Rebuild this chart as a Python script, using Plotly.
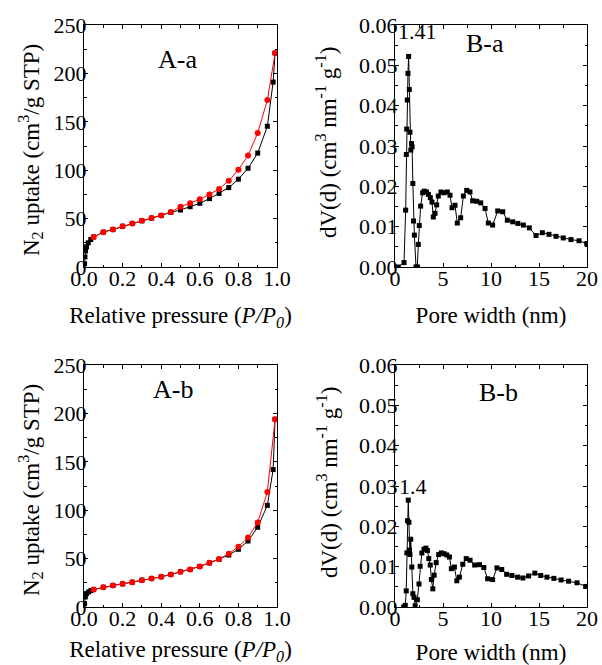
import plotly.graph_objects as go

# ---------------- data ----------------
# A-a: N2 isotherm (adsorption black, desorption red)
aa_ads_x = [0.003, 0.005, 0.008, 0.013, 0.022, 0.035, 0.05, 0.10, 0.15, 0.20, 0.25, 0.30, 0.35,
            0.40, 0.45, 0.50, 0.55, 0.60, 0.65, 0.70, 0.75, 0.80, 0.85, 0.90, 0.95, 0.98, 0.99]
aa_ads_y = [3.5, 10.4, 16.6, 20.8, 25.0, 28.4, 31.0, 36.0, 38.8, 42.0, 45.0, 47.8, 50.5,
            53.3, 56.5, 58.9, 62.3, 65.8, 70.6, 76.0, 82.0, 90.7, 102.0, 117.7, 145.4, 191.0, 221.0]
aa_des_x = [0.05, 0.10, 0.15, 0.20, 0.25, 0.30, 0.35, 0.40, 0.45, 0.50, 0.55, 0.60, 0.65,
            0.70, 0.75, 0.80, 0.85, 0.90, 0.95, 0.99]
aa_des_y = [31.0, 36.0, 38.8, 42.0, 45.0, 47.8, 50.5, 53.3, 56.8, 62.3, 65.8, 70.0, 75.0,
            80.7, 89.0, 100.4, 115.3, 138.5, 172.4, 221.0]

# A-b
ab_ads_x = [0.003, 0.007, 0.013, 0.024, 0.036, 0.05, 0.10, 0.15, 0.20, 0.25, 0.30, 0.35, 0.40,
            0.45, 0.50, 0.55, 0.60, 0.65, 0.70, 0.75, 0.80, 0.85, 0.90, 0.95, 0.98, 0.99]
ab_ads_y = [3.5, 10.4, 13.9, 15.6, 17.0, 18.0, 20.4, 22.2, 23.9, 25.6, 27.7, 29.4, 31.2,
            33.6, 36.4, 38.8, 41.9, 45.5, 49.3, 53.7, 59.6, 68.2, 82.4, 105.0, 142.0, 194.0]
ab_des_x = [0.05, 0.10, 0.15, 0.20, 0.25, 0.30, 0.35, 0.40, 0.45, 0.50, 0.55, 0.60, 0.65,
            0.70, 0.75, 0.80, 0.85, 0.90, 0.95, 0.99]
ab_des_y = [18.0, 20.4, 22.2, 23.9, 25.6, 27.7, 29.4, 31.2, 33.6, 36.4, 38.8, 41.9, 45.7,
            49.5, 55.0, 62.3, 71.7, 87.3, 118.8, 194.0]

# B-a: pore size distribution
ba_x = [0.35, 0.94, 1.11, 1.18, 1.22, 1.28, 1.35, 1.42, 1.49, 1.56, 1.65, 1.72, 1.78, 1.86,
        1.93, 2.02, 2.19, 2.32, 2.43, 2.53, 2.67, 2.88, 3.05, 3.28, 3.48, 3.68, 3.85, 3.99,
        4.17, 4.34, 4.51, 4.79, 5.10, 5.45, 5.73, 5.94, 6.25, 6.49, 6.84, 7.12, 7.47, 7.81,
        8.09, 8.51, 8.93, 9.38, 9.72, 10.17, 10.70, 11.22, 11.70, 12.26, 12.80, 13.37, 13.99,
        14.69, 15.35, 16.04, 16.77, 17.53, 18.33, 19.17, 19.97]
ba_y = [0.0, 0.0011, 0.0141, 0.0279, 0.0342, 0.0414, 0.0480, 0.0522, 0.0440, 0.0334, 0.0290,
        0.0306, 0.0298, 0.0207, 0.0114, 0.0079, 0.0, 0.0, 0.0056, 0.0103, 0.0151, 0.0184,
        0.0188, 0.0186, 0.0180, 0.0172, 0.0161, 0.0124, 0.0133, 0.0154, 0.0176, 0.0186,
        0.0184, 0.0186, 0.0178, 0.0147, 0.0153, 0.0109, 0.0122, 0.0176, 0.0190, 0.0186,
        0.0164, 0.0163, 0.0159, 0.0145, 0.0109, 0.0104, 0.0139, 0.0137, 0.0116, 0.0112,
        0.0108, 0.0104, 0.0097, 0.0078, 0.0085, 0.0081, 0.0076, 0.0072, 0.0068, 0.0065, 0.0058]

# B-b
bb_x = [0.90, 1.07, 1.17, 1.24, 1.31, 1.38, 1.45, 1.50, 1.56, 1.64, 1.75, 1.86, 1.98, 2.10,
        2.33, 2.50, 2.62, 2.80, 3.02, 3.22, 3.38, 3.52, 3.67, 3.79, 3.94, 4.08, 4.29, 4.55,
        4.83, 5.12, 5.40, 5.67, 5.87, 6.19, 6.44, 6.71, 7.06, 7.42, 7.82, 8.30, 8.80, 9.25,
        9.65, 10.17, 10.62, 11.12, 11.63, 12.18, 12.77, 13.32, 13.92, 14.57, 15.18, 15.83,
        16.55, 17.30, 18.08, 18.96, 19.86]
bb_y = [0.0, 0.0004, 0.0040, 0.0134, 0.0214, 0.0265, 0.0210, 0.0141, 0.0130, 0.0168, 0.0099,
        0.0033, 0.0024, 0.0003, 0.0018, 0.0057, 0.0101, 0.0134, 0.0143, 0.0146, 0.0140,
        0.0120, 0.0104, 0.0068, 0.0045, 0.0079, 0.0110, 0.0130, 0.0134, 0.0132, 0.0129,
        0.0124, 0.0095, 0.0099, 0.0065, 0.0074, 0.0106, 0.0120, 0.0116, 0.0104, 0.0105,
        0.0098, 0.0070, 0.0068, 0.0097, 0.0093, 0.0081, 0.0078, 0.0074, 0.0072, 0.0077,
        0.0084, 0.0078, 0.0074, 0.0071, 0.0067, 0.0064, 0.0060, 0.0051]

panel_labels = ["A-a", "B-a", "A-b", "B-b"]
panel_label_pos = [(0.487, 214.0), (9.4, 0.0555), (0.463, 225.0), (10.76, 0.0531)]
peak_labels = ["1.41", "1.4"]
peak_pos = [(2.33, 0.0583), (1.84, 0.0298)]

xA_title = "Relative pressure (<i>P/P<sub>0</sub></i>)"
yA_title = "N<sub>2</sub> uptake (cm<sup>3</sup>/g STP)"
xB_title = "Pore width (nm)"
yB_title = "dV(d) (cm<sup>3</sup> nm<sup>-1</sup> g<sup>-1</sup>)"

# ---------------- figure ----------------
W, H = 602, 665
FONT = "Liberation Serif"
fig = go.Figure()

def xd(a, b):
    return [a / W, b / W]

def yd(top, bottom):
    return [1 - bottom / H, 1 - top / H]

black_line = dict(color="black", width=1)
red_line = dict(color="red", width=1)

# A-a
fig.add_trace(go.Scatter(x=aa_ads_x, y=aa_ads_y, mode="lines+markers", line=black_line,
                         marker=dict(symbol="square", size=5, color="black"),
                         xaxis="x", yaxis="y", showlegend=False))
fig.add_trace(go.Scatter(x=aa_des_x, y=aa_des_y, mode="lines+markers", line=red_line,
                         marker=dict(symbol="circle", size=6, color="red"),
                         xaxis="x", yaxis="y", showlegend=False))
# B-a
fig.add_trace(go.Scatter(x=ba_x, y=ba_y, mode="lines+markers", line=black_line,
                         marker=dict(symbol="square", size=5, color="black"),
                         xaxis="x2", yaxis="y2", showlegend=False))
# A-b
fig.add_trace(go.Scatter(x=ab_ads_x, y=ab_ads_y, mode="lines+markers", line=black_line,
                         marker=dict(symbol="square", size=5, color="black"),
                         xaxis="x3", yaxis="y3", showlegend=False))
fig.add_trace(go.Scatter(x=ab_des_x, y=ab_des_y, mode="lines+markers", line=red_line,
                         marker=dict(symbol="circle", size=6, color="red"),
                         xaxis="x3", yaxis="y3", showlegend=False))
# B-b
fig.add_trace(go.Scatter(x=bb_x, y=bb_y, mode="lines+markers", line=black_line,
                         marker=dict(symbol="square", size=5, color="black"),
                         xaxis="x4", yaxis="y4", showlegend=False))

tickfont = dict(family=FONT, size=22, color="black")
titlefont = dict(family=FONT, size=23, color="black")

def axis(domain, rng, dtick, fmt, title, anchor, standoff, minor_dtick, lblstand):
    return dict(domain=domain, range=rng, dtick=dtick, tick0=0, tickformat=fmt,
                showgrid=False, zeroline=False, showline=True, linecolor="black",
                linewidth=1, mirror="allticks", ticks="inside", ticklen=4,
                tickcolor="black", tickwidth=1, tickfont=tickfont,
                ticklabelstandoff=lblstand,
                minor=dict(dtick=minor_dtick, ticks="inside", ticklen=2.5, tickcolor="black",
                           showgrid=False),
                title=dict(text=title, font=titlefont, standoff=standoff),
                anchor=anchor, automargin=False)

left = xd(84, 277)
right = xd(395, 587)
top = yd(25, 267)
bot = yd(365, 607)

fig.update_layout(
    width=W, height=H, margin=dict(l=0, r=0, t=0, b=0),
    paper_bgcolor="white", plot_bgcolor="white",
    font=dict(family=FONT, color="black"),
    xaxis=axis(left, [0, 1.0], 0.2, ".1f", xA_title, "y", 16, 0.1, -8),
    yaxis=axis(top, [0, 250], 50, "d", "", "x", 5, 25, -8),
    xaxis2=axis(right, [0, 20], 5, "d", xB_title, "y2", 16, 2.5, -8),
    yaxis2=axis(top, [0, 0.06], 0.01, ".2f", "", "x2", 18, 0.005, -8),
    xaxis3=axis(left, [0, 1.0], 0.2, ".1f", xA_title, "y3", 16, 0.1, -8),
    yaxis3=axis(bot, [0, 250], 50, "d", "", "x3", 5, 25, -8),
    xaxis4=axis(right, [0, 20], 5, "d", xB_title, "y4", 16, 2.5, -8),
    yaxis4=axis(bot, [0, 0.06], 0.01, ".2f", "", "x4", 18, 0.005, -8),
)

# y-axis titles as rotated text (placed in paper coordinates)
for (cx, cy, txt) in [(30, 150, yA_title), (327, 142, yB_title),
                      (30, 490, yA_title), (327, 482, yB_title)]:
    fig.add_annotation(x=cx / W, y=1 - cy / H, xref="paper", yref="paper", text=txt,
                       textangle=-90, showarrow=False, xanchor="center", yanchor="middle",
                       font=titlefont)

refs = [("x", "y"), ("x2", "y2"), ("x3", "y3"), ("x4", "y4")]
ann_font = dict(family=FONT, size=26, color="black")
for lbl, (px, py), (xr, yr) in zip(panel_labels, panel_label_pos, refs):
    fig.add_annotation(x=px, y=py, xref=xr, yref=yr, text=lbl, showarrow=False, font=ann_font)
for lbl, (px, py), (xr, yr) in zip(peak_labels, peak_pos, [refs[1], refs[3]]):
    fig.add_annotation(x=px, y=py, xref=xr, yref=yr, text=lbl, showarrow=False,
                       font=dict(family=FONT, size=22, color="black"))

fig.write_html("out.html", config={"displayModeBar": False},
               post_script="document.body.style.margin='0px';")
